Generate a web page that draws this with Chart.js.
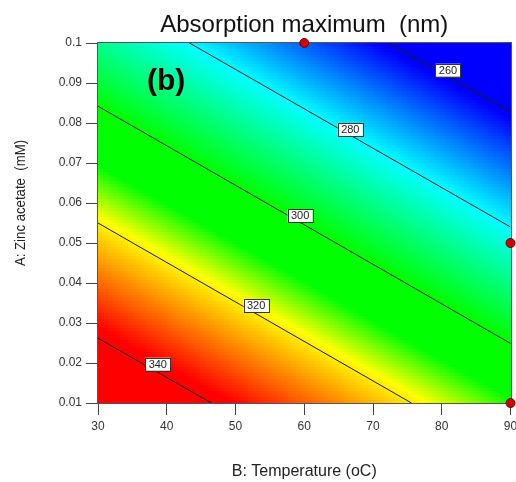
<!DOCTYPE html>
<html>
<head>
<meta charset="utf-8">
<script src="https://cdn.jsdelivr.net/npm/chart.js@4/dist/chart.umd.min.js"></script>
<style>
  html, body { margin: 0; padding: 0; background: #fff; }
  #wrap { width: 516px; height: 482px; }
</style>
</head>
<body>
<div id="wrap"><canvas id="chart"></canvas></div>
<script>
// Contour plot: response surface for absorption maximum vs. temperature (B)
// and zinc acetate (A).

const levels = [260, 280, 300, 320, 340];
// each contour is a straight segment: [start, end]
const contourB = [[72.3, 90], [43.3, 90], [30, 90], [30, 75.6], [30, 46.5]];
const contourA = [[0.1, 0.0828], [0.1, 0.054], [0.0842, 0.0249], [0.055, 0.01], [0.0262, 0.01]];
// where each contour's value label sits
const labelB = [80.9, 66.7, 59.4, 53.0, 38.7];
const labelA = [0.0932, 0.0784, 0.0568, 0.0343, 0.0197];

// design points (red dots)
const designB = [60, 90, 90];
const designA = [0.1, 0.05, 0.01];

// response (nm) estimated on a coarse grid; rows follow gridA, columns gridB
const gridB = [30, 60, 90];
const gridA = [0.01, 0.055, 0.1];
const response = [
  [351, 331, 311],
  [320, 300, 279],
  [289, 268, 248],
];

const xTicks = [30, 40, 50, 60, 70, 80, 90];
const yTicks = [0.01, 0.02, 0.03, 0.04, 0.05, 0.06, 0.07, 0.08, 0.09, 0.1];

// colour ramp: blue (low) -> cyan -> green -> yellow -> red (high)
const rampAt = [261, 280, 300, 310, 319, 338];
const rampRGB = [[0, 0, 255], [0, 255, 255], [0, 255, 0], [0, 255, 0], [255, 255, 0], [255, 0, 0]];

const FONT = "'Liberation Sans', Arial, sans-serif";

function locate(arr, v) {
  let i = 0;
  while (i < arr.length - 2 && v > arr[i + 1]) i++;
  const t = Math.min(1, Math.max(0, (v - arr[i]) / (arr[i + 1] - arr[i])));
  return [i, t];
}

// bilinear lookup in the response grid
function surface(b, a) {
  const [j, tb] = locate(gridB, b);
  const [i, ta] = locate(gridA, a);
  const r0 = response[i][j] * (1 - tb) + response[i][j + 1] * tb;
  const r1 = response[i + 1][j] * (1 - tb) + response[i + 1][j + 1] * tb;
  return r0 * (1 - ta) + r1 * ta;
}

function colorFor(v) {
  if (v <= rampAt[0]) return `rgb(${rampRGB[0]})`;
  const n = rampAt.length - 1;
  if (v >= rampAt[n]) return `rgb(${rampRGB[n]})`;
  let k = 0;
  while (v > rampAt[k + 1]) k++;
  const t = (v - rampAt[k]) / (rampAt[k + 1] - rampAt[k]);
  const c = rampRGB[k].map((c0, m) => Math.round(c0 + (rampRGB[k + 1][m] - c0) * t));
  return `rgb(${c})`;
}

// colour field + plot frame, under the contour lines
const fieldPlugin = {
  id: "field",
  beforeDatasetsDraw(chart) {
    const { ctx, chartArea: area, scales: { x, y } } = chart;
    const step = 3;
    const left = Math.round(area.left), top = Math.round(area.top);
    const right = Math.round(area.right), bottom = Math.round(area.bottom);
    ctx.save();
    for (let py = top; py < bottom; py += step) {
      for (let px = left; px < right; px += step) {
        const v = surface(x.getValueForPixel(px + step / 2), y.getValueForPixel(py + step / 2));
        ctx.fillStyle = colorFor(v);
        ctx.fillRect(px, py, Math.min(step, right - px), Math.min(step, bottom - py));
      }
    }
    ctx.strokeStyle = "#555";
    ctx.lineWidth = 1;
    ctx.strokeRect(left - 0.5, top - 0.5, right - left + 1, bottom - top + 1);
    ctx.restore();
  },
};

// contour value boxes, panel letter, titles
const textPlugin = {
  id: "texts",
  afterDatasetsDraw(chart) {
    const { ctx, chartArea: area, scales: { x, y } } = chart;
    ctx.save();
    ctx.font = `11px ${FONT}`;
    ctx.textAlign = "center";
    ctx.textBaseline = "middle";
    levels.forEach((lv, k) => {
      const cx = x.getPixelForValue(labelB[k]);
      const cy = y.getPixelForValue(labelA[k]);
      const w = 25, h = 13;
      ctx.fillStyle = "#fff";
      ctx.fillRect(cx - w / 2, cy - h / 2, w, h);
      ctx.strokeStyle = "#333";
      ctx.lineWidth = 1;
      ctx.strokeRect(Math.round(cx - w / 2) + 0.5, Math.round(cy - h / 2) + 0.5, w, h);
      ctx.fillStyle = "#222";
      ctx.fillText(String(lv), cx, cy + 0.5);
    });

    ctx.fillStyle = "#000";
    ctx.font = `bold 30px ${FONT}`;
    ctx.fillText("(b)", x.getPixelForValue(39.9), y.getPixelForValue(0.0902));

    ctx.textBaseline = "alphabetic";
    ctx.fillStyle = "#111";
    ctx.font = `24px ${FONT}`;
    ctx.fillText("Absorption maximum  (nm)", (area.left + area.right) / 2, 32);

    ctx.fillStyle = "#222";
    ctx.font = `16px ${FONT}`;
    ctx.fillText("B: Temperature (oC)", (area.left + area.right) / 2, 476);

    ctx.translate(25, 203);
    ctx.rotate(-Math.PI / 2);
    ctx.scale(0.88, 1);
    ctx.font = `15px ${FONT}`;
    ctx.fillText("A: Zinc acetate  (mM)", 0, 0);
    ctx.restore();
  },
};

const contourSets = levels.map((lv, k) => ({
  label: String(lv),
  data: contourB[k].map((b, m) => ({ x: b, y: contourA[k][m] })),
  showLine: true,
  borderColor: "#1a1a1a",
  borderWidth: 1,
  pointRadius: 0,
}));

const designSet = {
  label: "Design points",
  data: designB.map((b, m) => ({ x: b, y: designA[m] })),
  pointRadius: 4.5,
  backgroundColor: "#d10000",
  borderColor: "#7a0000",
  borderWidth: 1,
  clip: false,
};

const axisTicks = {
  color: "#333",
  font: { family: FONT, size: 12 },
  padding: 4,
};

new Chart(document.getElementById("chart"), {
  type: "scatter",
  data: { datasets: [...contourSets, designSet] },
  plugins: [fieldPlugin, textPlugin],
  options: {
    responsive: true,
    maintainAspectRatio: false,
    animation: false,
    layout: { padding: { top: 43, right: 4, left: 0, bottom: 0 } },
    plugins: { legend: { display: false }, tooltip: { enabled: false } },
    scales: {
      x: {
        type: "linear",
        min: xTicks[0],
        max: xTicks[xTicks.length - 1],
        afterBuildTicks: (s) => { s.ticks = xTicks.map((v) => ({ value: v })); },
        afterFit: (s) => { s.height = 79; s.paddingLeft = 0; s.paddingRight = 0; },
        ticks: { ...axisTicks, maxRotation: 0 },
        grid: { drawOnChartArea: false, tickLength: 12, color: "#444" },
        border: { color: "#555" },
      },
      y: {
        type: "linear",
        min: yTicks[0],
        max: yTicks[yTicks.length - 1],
        afterBuildTicks: (s) => { s.ticks = yTicks.map((v) => ({ value: v })); },
        afterFit: (s) => { s.width = 98; s.paddingTop = 0; s.paddingBottom = 0; },
        ticks: { ...axisTicks, callback: (v) => String(Number(v.toFixed(2))) },
        grid: { drawOnChartArea: false, tickLength: 12, color: "#444" },
        border: { color: "#555" },
      },
    },
  },
});
</script>
</body>
</html>
